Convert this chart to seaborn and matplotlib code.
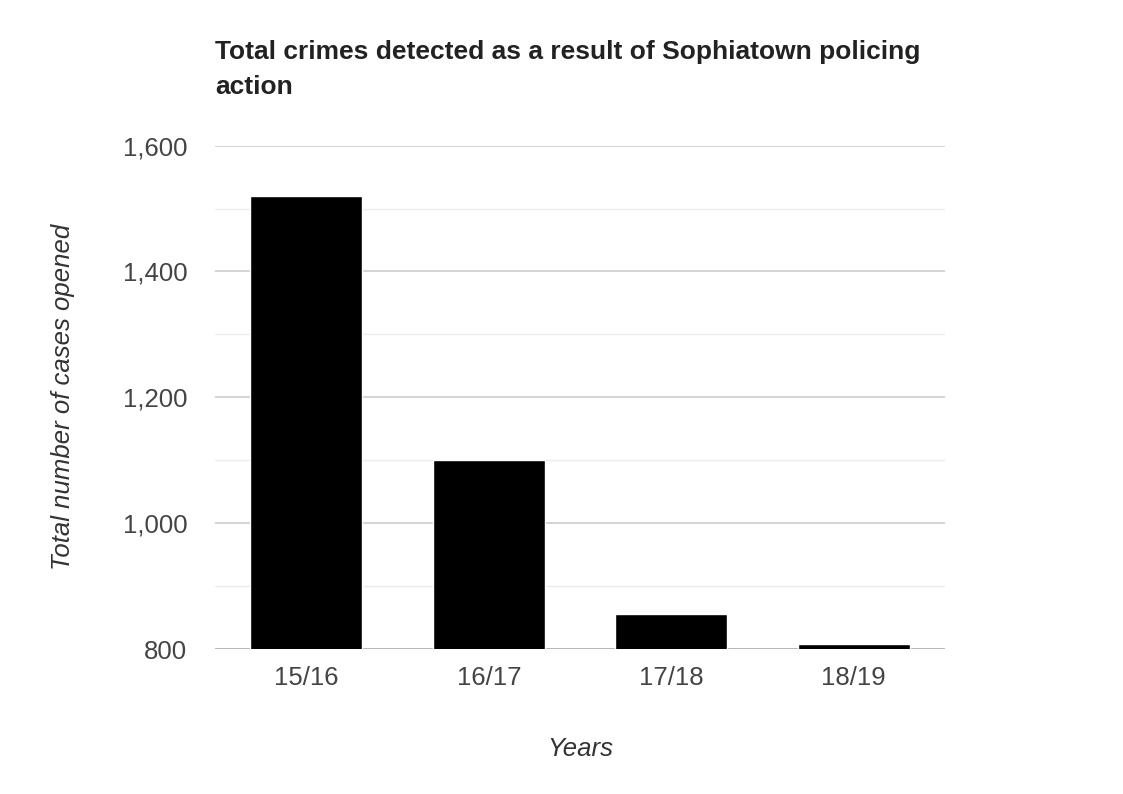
import matplotlib
matplotlib.use('Agg')
import matplotlib.pyplot as plt
import pandas as pd
import seaborn as sns

# Chart data
years = ['15/16', '16/17', '17/18', '18/19']
cases = [1520, 1100, 855, 808]

df = pd.DataFrame({'year': years, 'cases': cases})

sns.set_style('white')
plt.rcParams['font.family'] = ['Arial', 'Liberation Sans', 'DejaVu Sans']

fig = plt.figure(figsize=(11.23, 7.94), dpi=100)
ax = fig.add_axes([0.1915, 0.1826, 0.65, 0.634])

# minor + major gridlines
for v in [900, 1100, 1300, 1500]:
    ax.axhline(v, color='#ebebeb', lw=1, zorder=0)
for v in [1000, 1200, 1400, 1600]:
    ax.axhline(v, color='#cccccc', lw=1.2, zorder=0)

sns.barplot(data=df, x='year', y='cases', color='black', width=0.615, ax=ax,
            saturation=1, zorder=2)
ax.axhline(800, color='#aaaaaa', lw=1.2, zorder=1)

ax.set_ylim(800, 1600)
ax.set_xlim(-0.5, 3.5)
ax.set_yticks([800, 1000, 1200, 1400, 1600])
ax.set_yticklabels(['800', '1,000', '1,200', '1,400', '1,600'])
ax.tick_params(axis='both', length=0, labelsize=18.5, labelcolor='#444444')
ax.tick_params(axis='y', pad=20)
ax.tick_params(axis='x', pad=12)
for s in ax.spines.values():
    s.set_visible(False)

ax.set_xlabel('Years', fontsize=18.5, style='italic', color='#333333', labelpad=34)
ax.set_ylabel('Total number of cases opened', fontsize=18.5, style='italic',
              color='#333333', labelpad=34)

fig.text(0.1915, 1 - 52 / 794, 'Total crimes detected as a result of Sophiatown policing',
         fontsize=19, fontweight='bold', color='#222222', va='center', ha='left')
fig.text(0.1915, 1 - 87 / 794, 'action',
         fontsize=19, fontweight='bold', color='#222222', va='center', ha='left')

fig.savefig('out.png', dpi=100)
